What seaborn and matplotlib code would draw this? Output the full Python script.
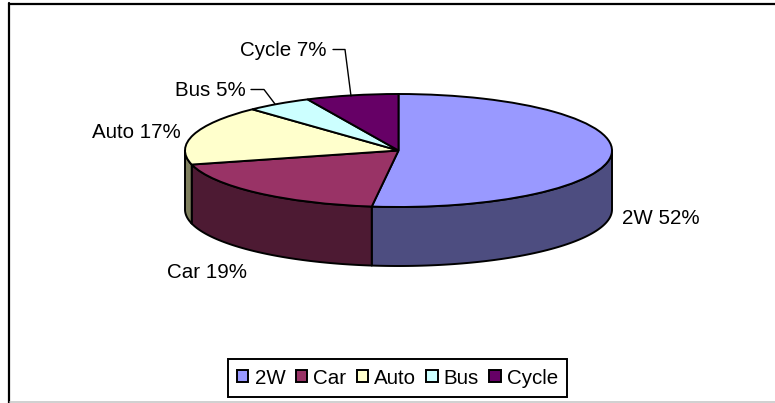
import numpy as np
import matplotlib
matplotlib.use('Agg')
import matplotlib.pyplot as plt
import seaborn as sns

# Chart values
labels = ['2W', 'Car', 'Auto', 'Bus', 'Cycle']
shares = [52, 19, 17, 5, 7]
top_colors = ['#9999FF', '#993366', '#FFFFCC', '#CCFFFF', '#660066']
side_colors = ['#4D4D80', '#4D1A33', '#80805F', '#668080', '#330033']

sns.set_theme(style='white')
plt.rcParams['font.family'] = ['Liberation Sans', 'DejaVu Sans']

W, H = 775, 403
fig = plt.figure(figsize=(W / 100, H / 100), dpi=100, facecolor='white')

# pie geometry in pixels
left, right, top, bottom = 185, 612, 94, 207
depth_px = 59
depth = depth_px / ((bottom - top) / 2)

ax = fig.add_axes([left / W, 1 - (bottom + depth_px) / H, (right - left) / W, (bottom - top + depth_px) / H])
palette = sns.color_palette(top_colors)

# side wall, only the front half of the rim shows
edges = np.cumsum([0] + shares) / sum(shares) * 360
for i in range(len(shares)):
    a0, a1 = max(edges[i], 90), min(edges[i + 1], 270)
    if a1 <= a0:
        continue
    t = np.radians(np.linspace(a0, a1, 80))
    x, y = np.sin(t), np.cos(t)
    ax.fill(np.r_[x, x[::-1]], np.r_[y, y[::-1] - depth], color=side_colors[i], ec='black', lw=1.4, joinstyle='round')

wedges, _ = ax.pie(shares, colors=palette, startangle=90, counterclock=False, radius=1,
                   wedgeprops={'edgecolor': 'black', 'linewidth': 1.4})
ax.set_aspect('auto')
ax.set_xlim(-1, 1)
ax.set_ylim(-1 - depth, 1)
ax.axis('off')
for c in ax.collections + ax.patches:
    c.set_clip_on(False)

# overlay in pixel units for frame, labels and leader lines
ov = fig.add_axes([0, 0, 1, 1], facecolor='none')
ov.set_xlim(0, W)
ov.set_ylim(H, 0)
ov.axis('off')

# the frame is cut off on the right, only top and left show
ov.plot([9, W], [3.5, 3.5], color='black', lw=1.6)
ov.plot([9, 9], [3, H], color='black', lw=1.6)
ov.plot([10, W], [401.5, 401.5], color='#c8c8c8', lw=1.2)

label_pos = [(622, 218), (167, 272), (92, 132), (175, 90), (240, 50)]
for name, share, (lx, ly) in zip(labels, shares, label_pos):
    ov.text(lx, ly, f'{name} {share}%', fontsize=14.8, color='black', ha='left', va='center')

ov.plot([251, 264, 275], [89.5, 89.5, 104], color='black', lw=1)
ov.plot([333, 345, 351], [49.5, 49.5, 96], color='black', lw=1)

leg = ov.legend(wedges, labels, ncol=5, loc='center', bbox_to_anchor=(397.5 / W, 1 - 378 / H),
                bbox_transform=fig.transFigure, fontsize=14.8, frameon=True, fancybox=False,
                edgecolor='black', framealpha=1, handlelength=0.55, handleheight=0.55,
                handletextpad=0.3, columnspacing=0.5, borderpad=0.45, borderaxespad=0,
                labelcolor='black')
leg.get_frame().set_linewidth(1.4)

fig.savefig('out.png', dpi=100)
